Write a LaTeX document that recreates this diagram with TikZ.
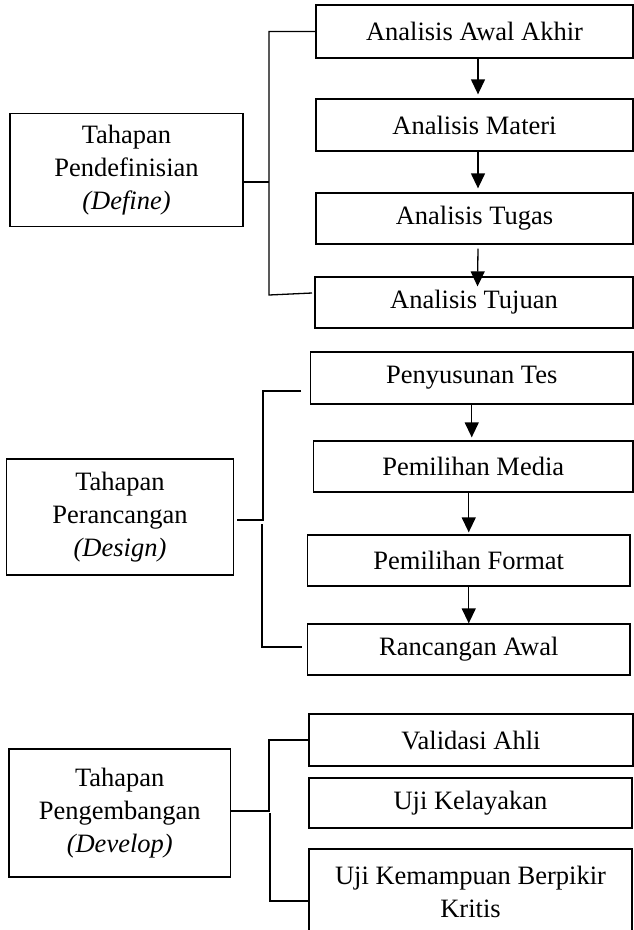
\documentclass[tikz,border=0pt]{standalone}
\usepackage{fontspec}
\setmainfont{Liberation Serif}
\usetikzlibrary{arrows.meta, positioning, calc}

\begin{document}
\begin{tikzpicture}[
        x=1pt, y=-1pt,
        every node/.style={font=\fontsize{26.5}{33}\selectfont},
        stage/.style={rectangle, draw=black, line width=1.3pt, align=center, inner sep=0pt},
        task/.style={rectangle, draw=black, line width=1.3pt, align=center, inner sep=0pt, minimum height=51pt},
        arrow/.style={-{Triangle[width=14pt, length=15pt]}, line width=1.3pt},
        link/.style={line width=1.3pt}
    ]
        \useasboundingbox (0,0) rectangle (634,930);
        \clip (0,0) rectangle (634,930);

        \node[stage, minimum width=233pt, minimum height=113pt] (define) at (126.5,170) {Tahapan\\Pendefinisian\\\textit{(Define)}};
        \node[task, minimum width=317pt, minimum height=53pt] (awalakhir) at (474.5,31.5) {Analisis Awal Akhir};
        \node[task, minimum width=317pt, minimum height=52pt] (materi) at (474.5,125) {Analisis Materi};
        \node[task, minimum width=317pt] (tugas) at (474.5,218.5) {Analisis Tugas};
        \node[task, minimum width=318pt] (tujuan) at (474,302.5) {Analisis Tujuan};

        \draw[arrow] ([xshift=3.5pt]awalakhir.south) -- ([xshift=3.5pt, yshift=4pt]materi.north);
        \draw[arrow] ([xshift=3.5pt]materi.south) -- ([xshift=3.5pt, yshift=4pt]tugas.north);
        \draw[arrow] ([xshift=3.5pt, yshift=-4pt]tugas.south) -- ([xshift=3.5pt, yshift=-10pt]tujuan.north);

        \coordinate (dmid) at (269,182);
        \coordinate (dbot) at (269,295);
        \coordinate (dend) at (312,293);
        \draw[link] (awalakhir.west) -| (dbot) -- (dend);
        \draw[link] (define.east |- dmid) -- (dmid);

        \node[stage, minimum width=227.5pt, minimum height=116pt] (design) at (120,517) {Tahapan\\Perancangan\\\textit{(Design)}};
        \node[task, minimum width=322.5pt, minimum height=52pt] (tes) at (471.75,378) {Penyusunan Tes};
        \node[task, minimum width=319.5pt] (media) at (473.25,466.5) {Pemilihan Media};
        \node[task, minimum width=322.5pt] (format) at (468.75,560.5) {Pemilihan Format};
        \node[task, minimum width=322.5pt] (awal) at (468.75,649.5) {Rancangan Awal};

        \draw[arrow] (tes.south) -- ([yshift=3pt]tes.south |- media.north);
        \draw[arrow] (media.south -| format.north) -- ([yshift=2pt]format.north);
        \draw[arrow] (format.south) -- (awal.north);

        \coordinate (ptop) at (301,391);
        \coordinate (pmid) at (263,520);
        \coordinate (psplit) at (262,524);
        \coordinate (pbot) at (262,647);
        \coordinate (pend) at (302,647);
        \draw[link] (ptop) -| (pmid) -- ([xshift=3pt]design.east |- pmid);
        \draw[link] (psplit) -- (pbot) -- (pend);

        \node[stage, minimum width=221.5pt, minimum height=128pt] (develop) at (119.75,813) {Tahapan\\Pengembangan\\\textit{(Develop)}};
        \node[task, minimum width=324pt, minimum height=52pt] (validasi) at (471,740) {Validasi Ahli};
        \node[task, minimum width=323pt, minimum height=50pt] (kelayakan) at (470.5,803) {Uji Kelayakan};
        \node[task, minimum width=323pt, minimum height=86pt] (kemampuan) at (470.5,892) {Uji Kemampuan Berpikir\\Kritis};

        \coordinate (vmid) at (269,811);
        \coordinate (vsplit) at (270,813);
        \coordinate (vbot) at (270,901);
        \draw[link] (validasi.west) -| (vmid) -- (develop.east |- vmid);
        \draw[link] (vsplit) -- (vbot) -- (kemampuan.west |- vbot);
    \end{tikzpicture}
\end{document}
